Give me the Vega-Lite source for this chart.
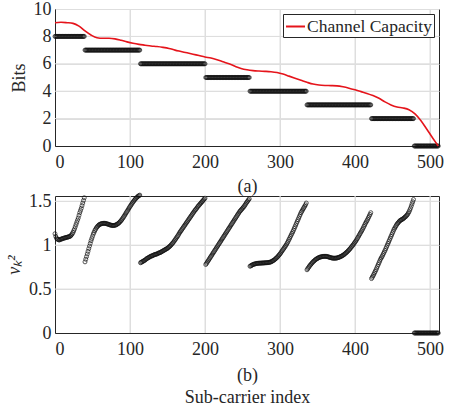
{
  "$schema": "https://vega.github.io/schema/vega-lite/v6.json",
  "background": "white",
  "padding": {"left": 5, "top": -1, "right": 5, "bottom": 0},
  "spacing": -6,
  "config": {
    "font": "Liberation Serif",
    "view": {"stroke": "#262626", "strokeWidth": 1},
    "axis": {
      "labelFont": "Liberation Serif",
      "labelFontSize": 18,
      "labelColor": "#262626",
      "titleFont": "Liberation Serif",
      "titleFontSize": 18,
      "titleFontWeight": "normal",
      "titleColor": "#262626",
      "domainColor": "#262626",
      "grid": true,
      "gridColor": "#dedede",
      "ticks": false,
      "labelOverlap": false
    },
    "axisX": {"labelPadding": 7, "titlePadding": 6},
    "axisY": {"labelPadding": 4, "titlePadding": 5},
    "legend": {
      "labelFont": "Liberation Serif",
      "labelFontSize": 17.5,
      "labelColor": "#262626",
      "strokeColor": "#262626",
      "fillColor": "white",
      "padding": 2,
      "orient": "top-right",
      "offset": 5,
      "symbolType": "stroke",
      "symbolStrokeWidth": 2,
      "symbolSize": 360,
      "labelOffset": 1
    }
  },
  "datasets": {
    "gridX": [{"g":100},{"g":200},{"g":300},{"g":400},{"g":500}],
    "gridBits": [{"g":2},{"g":4},{"g":6},{"g":8}],
    "gridNu": [{"g":0.5},{"g":1},{"g":1.5}],
    "sub": [
      {"k":0,"b":8,"v":1.13},{"k":1,"b":8,"v":1.10},{"k":2,"b":8,"v":1.08},{"k":3,"b":8,"v":1.07},{"k":4,"b":8,"v":1.065},{"k":5,"b":8,"v":1.06},{"k":6,"b":8,"v":1.06},{"k":7,"b":8,"v":1.065},{"k":8,"b":8,"v":1.07},{"k":9,"b":8,"v":1.07},
      {"k":10,"b":8,"v":1.075},{"k":11,"b":8,"v":1.078},{"k":12,"b":8,"v":1.08},{"k":13,"b":8,"v":1.083},{"k":14,"b":8,"v":1.085},{"k":15,"b":8,"v":1.088},{"k":16,"b":8,"v":1.09},{"k":17,"b":8,"v":1.092},{"k":18,"b":8,"v":1.095},{"k":19,"b":8,"v":1.098},
      {"k":20,"b":8,"v":1.10},{"k":21,"b":8,"v":1.108},{"k":22,"b":8,"v":1.118},{"k":23,"b":8,"v":1.13},{"k":24,"b":8,"v":1.145},{"k":25,"b":8,"v":1.165},{"k":26,"b":8,"v":1.185},{"k":27,"b":8,"v":1.21},{"k":28,"b":8,"v":1.235},{"k":29,"b":8,"v":1.26},
      {"k":30,"b":8,"v":1.285},{"k":31,"b":8,"v":1.31},{"k":32,"b":8,"v":1.34},{"k":33,"b":8,"v":1.37},{"k":34,"b":8,"v":1.395},{"k":35,"b":8,"v":1.42},{"k":36,"b":8,"v":1.45},{"k":37,"b":8,"v":1.48},{"k":38,"b":8,"v":1.51},{"k":39,"b":8,"v":1.54},
      {"k":40,"b":7,"v":0.81},{"k":41,"b":7,"v":0.84},{"k":42,"b":7,"v":0.87},{"k":43,"b":7,"v":0.90},{"k":44,"b":7,"v":0.93},{"k":45,"b":7,"v":0.96},{"k":46,"b":7,"v":0.99},{"k":47,"b":7,"v":1.02},{"k":48,"b":7,"v":1.05},{"k":49,"b":7,"v":1.075},
      {"k":50,"b":7,"v":1.10},{"k":51,"b":7,"v":1.125},{"k":52,"b":7,"v":1.145},{"k":53,"b":7,"v":1.165},{"k":54,"b":7,"v":1.18},{"k":55,"b":7,"v":1.195},{"k":56,"b":7,"v":1.207},{"k":57,"b":7,"v":1.217},{"k":58,"b":7,"v":1.226},{"k":59,"b":7,"v":1.233},
      {"k":60,"b":7,"v":1.238},{"k":61,"b":7,"v":1.242},{"k":62,"b":7,"v":1.245},{"k":63,"b":7,"v":1.247},{"k":64,"b":7,"v":1.248},{"k":65,"b":7,"v":1.249},{"k":66,"b":7,"v":1.249},{"k":67,"b":7,"v":1.248},{"k":68,"b":7,"v":1.246},{"k":69,"b":7,"v":1.244},
      {"k":70,"b":7,"v":1.241},{"k":71,"b":7,"v":1.238},{"k":72,"b":7,"v":1.235},{"k":73,"b":7,"v":1.232},{"k":74,"b":7,"v":1.229},{"k":75,"b":7,"v":1.227},{"k":76,"b":7,"v":1.225},{"k":77,"b":7,"v":1.224},{"k":78,"b":7,"v":1.224},{"k":79,"b":7,"v":1.225},
      {"k":80,"b":7,"v":1.227},{"k":81,"b":7,"v":1.23},{"k":82,"b":7,"v":1.234},{"k":83,"b":7,"v":1.239},{"k":84,"b":7,"v":1.245},{"k":85,"b":7,"v":1.252},{"k":86,"b":7,"v":1.26},{"k":87,"b":7,"v":1.269},{"k":88,"b":7,"v":1.279},{"k":89,"b":7,"v":1.29},
      {"k":90,"b":7,"v":1.302},{"k":91,"b":7,"v":1.315},{"k":92,"b":7,"v":1.328},{"k":93,"b":7,"v":1.342},{"k":94,"b":7,"v":1.356},{"k":95,"b":7,"v":1.37},{"k":96,"b":7,"v":1.384},{"k":97,"b":7,"v":1.398},{"k":98,"b":7,"v":1.412},{"k":99,"b":7,"v":1.426},
      {"k":100,"b":7,"v":1.44},{"k":101,"b":7,"v":1.453},{"k":102,"b":7,"v":1.466},{"k":103,"b":7,"v":1.479},{"k":104,"b":7,"v":1.491},{"k":105,"b":7,"v":1.503},{"k":106,"b":7,"v":1.514},{"k":107,"b":7,"v":1.524},{"k":108,"b":7,"v":1.534},{"k":109,"b":7,"v":1.543},
      {"k":110,"b":7,"v":1.551},{"k":111,"b":7,"v":1.558},{"k":112,"b":7,"v":1.564},{"k":113,"b":7,"v":1.57},
      {"k":114,"b":6,"v":0.80},{"k":115,"b":6,"v":0.805},{"k":116,"b":6,"v":0.81},{"k":117,"b":6,"v":0.815},{"k":118,"b":6,"v":0.82},{"k":119,"b":6,"v":0.825},
      {"k":120,"b":6,"v":0.83},{"k":121,"b":6,"v":0.837},{"k":122,"b":6,"v":0.845},{"k":123,"b":6,"v":0.85},{"k":124,"b":6,"v":0.855},{"k":125,"b":6,"v":0.86},{"k":126,"b":6,"v":0.865},{"k":127,"b":6,"v":0.87},{"k":128,"b":6,"v":0.875},{"k":129,"b":6,"v":0.878},
      {"k":130,"b":6,"v":0.88},{"k":131,"b":6,"v":0.885},{"k":132,"b":6,"v":0.89},{"k":133,"b":6,"v":0.893},{"k":134,"b":6,"v":0.895},{"k":135,"b":6,"v":0.898},{"k":136,"b":6,"v":0.90},{"k":137,"b":6,"v":0.905},{"k":138,"b":6,"v":0.91},{"k":139,"b":6,"v":0.913},
      {"k":140,"b":6,"v":0.915},{"k":141,"b":6,"v":0.92},{"k":142,"b":6,"v":0.925},{"k":143,"b":6,"v":0.93},{"k":144,"b":6,"v":0.935},{"k":145,"b":6,"v":0.94},{"k":146,"b":6,"v":0.945},{"k":147,"b":6,"v":0.95},{"k":148,"b":6,"v":0.955},{"k":149,"b":6,"v":0.96},
      {"k":150,"b":6,"v":0.965},{"k":151,"b":6,"v":0.972},{"k":152,"b":6,"v":0.98},{"k":153,"b":6,"v":0.987},{"k":154,"b":6,"v":0.995},{"k":155,"b":6,"v":1.005},{"k":156,"b":6,"v":1.015},{"k":157,"b":6,"v":1.025},{"k":158,"b":6,"v":1.035},{"k":159,"b":6,"v":1.047},
      {"k":160,"b":6,"v":1.06},{"k":161,"b":6,"v":1.072},{"k":162,"b":6,"v":1.085},{"k":163,"b":6,"v":1.097},{"k":164,"b":6,"v":1.11},{"k":165,"b":6,"v":1.125},{"k":166,"b":6,"v":1.14},{"k":167,"b":6,"v":1.152},{"k":168,"b":6,"v":1.165},{"k":169,"b":6,"v":1.177},
      {"k":170,"b":6,"v":1.19},{"k":171,"b":6,"v":1.202},{"k":172,"b":6,"v":1.215},{"k":173,"b":6,"v":1.227},{"k":174,"b":6,"v":1.24},{"k":175,"b":6,"v":1.252},{"k":176,"b":6,"v":1.265},{"k":177,"b":6,"v":1.277},{"k":178,"b":6,"v":1.29},{"k":179,"b":6,"v":1.302},
      {"k":180,"b":6,"v":1.315},{"k":181,"b":6,"v":1.327},{"k":182,"b":6,"v":1.34},{"k":183,"b":6,"v":1.352},{"k":184,"b":6,"v":1.365},{"k":185,"b":6,"v":1.377},{"k":186,"b":6,"v":1.39},{"k":187,"b":6,"v":1.40},{"k":188,"b":6,"v":1.41},{"k":189,"b":6,"v":1.422},
      {"k":190,"b":6,"v":1.435},{"k":191,"b":6,"v":1.445},{"k":192,"b":6,"v":1.455},{"k":193,"b":6,"v":1.465},{"k":194,"b":6,"v":1.475},{"k":195,"b":6,"v":1.485},{"k":196,"b":6,"v":1.495},{"k":197,"b":6,"v":1.505},{"k":198,"b":6,"v":1.515},{"k":199,"b":6,"v":1.525},
      {"k":200,"b":6,"v":1.535},
      {"k":201,"b":5,"v":0.78},{"k":202,"b":5,"v":0.793},{"k":203,"b":5,"v":0.806},{"k":204,"b":5,"v":0.82},{"k":205,"b":5,"v":0.833},{"k":206,"b":5,"v":0.846},{"k":207,"b":5,"v":0.86},{"k":208,"b":5,"v":0.873},{"k":209,"b":5,"v":0.886},
      {"k":210,"b":5,"v":0.90},{"k":211,"b":5,"v":0.913},{"k":212,"b":5,"v":0.926},{"k":213,"b":5,"v":0.94},{"k":214,"b":5,"v":0.953},{"k":215,"b":5,"v":0.966},{"k":216,"b":5,"v":0.98},{"k":217,"b":5,"v":0.993},{"k":218,"b":5,"v":1.006},{"k":219,"b":5,"v":1.02},
      {"k":220,"b":5,"v":1.033},{"k":221,"b":5,"v":1.046},{"k":222,"b":5,"v":1.06},{"k":223,"b":5,"v":1.073},{"k":224,"b":5,"v":1.086},{"k":225,"b":5,"v":1.10},{"k":226,"b":5,"v":1.113},{"k":227,"b":5,"v":1.126},{"k":228,"b":5,"v":1.14},{"k":229,"b":5,"v":1.153},
      {"k":230,"b":5,"v":1.166},{"k":231,"b":5,"v":1.18},{"k":232,"b":5,"v":1.193},{"k":233,"b":5,"v":1.206},{"k":234,"b":5,"v":1.22},{"k":235,"b":5,"v":1.233},{"k":236,"b":5,"v":1.246},{"k":237,"b":5,"v":1.26},{"k":238,"b":5,"v":1.273},{"k":239,"b":5,"v":1.286},
      {"k":240,"b":5,"v":1.30},{"k":241,"b":5,"v":1.313},{"k":242,"b":5,"v":1.326},{"k":243,"b":5,"v":1.34},{"k":244,"b":5,"v":1.353},{"k":245,"b":5,"v":1.366},{"k":246,"b":5,"v":1.38},{"k":247,"b":5,"v":1.39},{"k":248,"b":5,"v":1.40},{"k":249,"b":5,"v":1.41},
      {"k":250,"b":5,"v":1.42},{"k":251,"b":5,"v":1.43},{"k":252,"b":5,"v":1.44},{"k":253,"b":5,"v":1.453},{"k":254,"b":5,"v":1.466},{"k":255,"b":5,"v":1.48},{"k":256,"b":5,"v":1.492},{"k":257,"b":5,"v":1.504},{"k":258,"b":5,"v":1.516},{"k":259,"b":5,"v":1.528},
      {"k":260,"b":4,"v":0.76},{"k":261,"b":4,"v":0.765},{"k":262,"b":4,"v":0.77},{"k":263,"b":4,"v":0.775},{"k":264,"b":4,"v":0.78},{"k":265,"b":4,"v":0.783},{"k":266,"b":4,"v":0.785},{"k":267,"b":4,"v":0.788},{"k":268,"b":4,"v":0.79},{"k":269,"b":4,"v":0.792},
      {"k":270,"b":4,"v":0.793},{"k":271,"b":4,"v":0.794},{"k":272,"b":4,"v":0.795},{"k":273,"b":4,"v":0.795},{"k":274,"b":4,"v":0.796},{"k":275,"b":4,"v":0.796},{"k":276,"b":4,"v":0.797},{"k":277,"b":4,"v":0.797},{"k":278,"b":4,"v":0.798},{"k":279,"b":4,"v":0.798},
      {"k":280,"b":4,"v":0.799},{"k":281,"b":4,"v":0.80},{"k":282,"b":4,"v":0.80},{"k":283,"b":4,"v":0.801},{"k":284,"b":4,"v":0.802},{"k":285,"b":4,"v":0.803},{"k":286,"b":4,"v":0.805},{"k":287,"b":4,"v":0.807},{"k":288,"b":4,"v":0.81},{"k":289,"b":4,"v":0.815},
      {"k":290,"b":4,"v":0.82},{"k":291,"b":4,"v":0.825},{"k":292,"b":4,"v":0.83},{"k":293,"b":4,"v":0.837},{"k":294,"b":4,"v":0.845},{"k":295,"b":4,"v":0.852},{"k":296,"b":4,"v":0.86},{"k":297,"b":4,"v":0.87},{"k":298,"b":4,"v":0.88},{"k":299,"b":4,"v":0.89},
      {"k":300,"b":4,"v":0.90},{"k":301,"b":4,"v":0.912},{"k":302,"b":4,"v":0.925},{"k":303,"b":4,"v":0.937},{"k":304,"b":4,"v":0.95},{"k":305,"b":4,"v":0.962},{"k":306,"b":4,"v":0.975},{"k":307,"b":4,"v":0.987},{"k":308,"b":4,"v":1.00},{"k":309,"b":4,"v":1.015},
      {"k":310,"b":4,"v":1.03},{"k":311,"b":4,"v":1.047},{"k":312,"b":4,"v":1.065},{"k":313,"b":4,"v":1.082},{"k":314,"b":4,"v":1.10},{"k":315,"b":4,"v":1.117},{"k":316,"b":4,"v":1.135},{"k":317,"b":4,"v":1.152},{"k":318,"b":4,"v":1.17},{"k":319,"b":4,"v":1.19},
      {"k":320,"b":4,"v":1.21},{"k":321,"b":4,"v":1.23},{"k":322,"b":4,"v":1.25},{"k":323,"b":4,"v":1.27},{"k":324,"b":4,"v":1.29},{"k":325,"b":4,"v":1.31},{"k":326,"b":4,"v":1.33},{"k":327,"b":4,"v":1.35},{"k":328,"b":4,"v":1.37},{"k":329,"b":4,"v":1.385},
      {"k":330,"b":4,"v":1.40},{"k":331,"b":4,"v":1.415},{"k":332,"b":4,"v":1.43},{"k":333,"b":4,"v":1.445},{"k":334,"b":4,"v":1.46},{"k":335,"b":4,"v":1.48},
      {"k":336,"b":3,"v":0.72},{"k":337,"b":3,"v":0.733},{"k":338,"b":3,"v":0.745},{"k":339,"b":3,"v":0.758},
      {"k":340,"b":3,"v":0.77},{"k":341,"b":3,"v":0.78},{"k":342,"b":3,"v":0.79},{"k":343,"b":3,"v":0.80},{"k":344,"b":3,"v":0.81},{"k":345,"b":3,"v":0.818},{"k":346,"b":3,"v":0.825},{"k":347,"b":3,"v":0.833},{"k":348,"b":3,"v":0.84},{"k":349,"b":3,"v":0.845},
      {"k":350,"b":3,"v":0.85},{"k":351,"b":3,"v":0.855},{"k":352,"b":3,"v":0.86},{"k":353,"b":3,"v":0.863},{"k":354,"b":3,"v":0.865},{"k":355,"b":3,"v":0.868},{"k":356,"b":3,"v":0.87},{"k":357,"b":3,"v":0.871},{"k":358,"b":3,"v":0.872},{"k":359,"b":3,"v":0.873},
      {"k":360,"b":3,"v":0.873},{"k":361,"b":3,"v":0.873},{"k":362,"b":3,"v":0.872},{"k":363,"b":3,"v":0.87},{"k":364,"b":3,"v":0.868},{"k":365,"b":3,"v":0.865},{"k":366,"b":3,"v":0.862},{"k":367,"b":3,"v":0.86},{"k":368,"b":3,"v":0.857},{"k":369,"b":3,"v":0.855},
      {"k":370,"b":3,"v":0.853},{"k":371,"b":3,"v":0.852},{"k":372,"b":3,"v":0.852},{"k":373,"b":3,"v":0.852},{"k":374,"b":3,"v":0.852},{"k":375,"b":3,"v":0.853},{"k":376,"b":3,"v":0.855},{"k":377,"b":3,"v":0.857},{"k":378,"b":3,"v":0.86},{"k":379,"b":3,"v":0.863},
      {"k":380,"b":3,"v":0.867},{"k":381,"b":3,"v":0.871},{"k":382,"b":3,"v":0.875},{"k":383,"b":3,"v":0.88},{"k":384,"b":3,"v":0.885},{"k":385,"b":3,"v":0.891},{"k":386,"b":3,"v":0.898},{"k":387,"b":3,"v":0.905},{"k":388,"b":3,"v":0.912},{"k":389,"b":3,"v":0.92},
      {"k":390,"b":3,"v":0.928},{"k":391,"b":3,"v":0.937},{"k":392,"b":3,"v":0.946},{"k":393,"b":3,"v":0.956},{"k":394,"b":3,"v":0.966},{"k":395,"b":3,"v":0.977},{"k":396,"b":3,"v":0.988},{"k":397,"b":3,"v":0.999},{"k":398,"b":3,"v":1.01},{"k":399,"b":3,"v":1.022},
      {"k":400,"b":3,"v":1.035},{"k":401,"b":3,"v":1.047},{"k":402,"b":3,"v":1.06},{"k":403,"b":3,"v":1.075},{"k":404,"b":3,"v":1.09},{"k":405,"b":3,"v":1.105},{"k":406,"b":3,"v":1.12},{"k":407,"b":3,"v":1.135},{"k":408,"b":3,"v":1.15},{"k":409,"b":3,"v":1.165},
      {"k":410,"b":3,"v":1.18},{"k":411,"b":3,"v":1.197},{"k":412,"b":3,"v":1.215},{"k":413,"b":3,"v":1.232},{"k":414,"b":3,"v":1.25},{"k":415,"b":3,"v":1.265},{"k":416,"b":3,"v":1.28},{"k":417,"b":3,"v":1.297},{"k":418,"b":3,"v":1.315},{"k":419,"b":3,"v":1.332},
      {"k":420,"b":3,"v":1.35},{"k":421,"b":3,"v":1.37},
      {"k":422,"b":2,"v":0.62},{"k":423,"b":2,"v":0.635},{"k":424,"b":2,"v":0.65},{"k":425,"b":2,"v":0.667},{"k":426,"b":2,"v":0.685},{"k":427,"b":2,"v":0.702},{"k":428,"b":2,"v":0.72},{"k":429,"b":2,"v":0.74},
      {"k":430,"b":2,"v":0.76},{"k":431,"b":2,"v":0.78},{"k":432,"b":2,"v":0.80},{"k":433,"b":2,"v":0.82},{"k":434,"b":2,"v":0.84},{"k":435,"b":2,"v":0.855},{"k":436,"b":2,"v":0.87},{"k":437,"b":2,"v":0.887},{"k":438,"b":2,"v":0.905},{"k":439,"b":2,"v":0.922},
      {"k":440,"b":2,"v":0.94},{"k":441,"b":2,"v":0.96},{"k":442,"b":2,"v":0.98},{"k":443,"b":2,"v":1.00},{"k":444,"b":2,"v":1.02},{"k":445,"b":2,"v":1.04},{"k":446,"b":2,"v":1.06},{"k":447,"b":2,"v":1.08},{"k":448,"b":2,"v":1.10},{"k":449,"b":2,"v":1.12},
      {"k":450,"b":2,"v":1.14},{"k":451,"b":2,"v":1.16},{"k":452,"b":2,"v":1.18},{"k":453,"b":2,"v":1.195},{"k":454,"b":2,"v":1.21},{"k":455,"b":2,"v":1.225},{"k":456,"b":2,"v":1.24},{"k":457,"b":2,"v":1.25},{"k":458,"b":2,"v":1.26},{"k":459,"b":2,"v":1.27},
      {"k":460,"b":2,"v":1.28},{"k":461,"b":2,"v":1.285},{"k":462,"b":2,"v":1.29},{"k":463,"b":2,"v":1.295},{"k":464,"b":2,"v":1.30},{"k":465,"b":2,"v":1.307},{"k":466,"b":2,"v":1.315},{"k":467,"b":2,"v":1.322},{"k":468,"b":2,"v":1.33},{"k":469,"b":2,"v":1.34},
      {"k":470,"b":2,"v":1.35},{"k":471,"b":2,"v":1.365},{"k":472,"b":2,"v":1.38},{"k":473,"b":2,"v":1.40},{"k":474,"b":2,"v":1.42},{"k":475,"b":2,"v":1.445},{"k":476,"b":2,"v":1.47},{"k":477,"b":2,"v":1.495},{"k":478,"b":2,"v":1.52},
      {"k":479,"b":0,"v":0},{"k":480,"b":0,"v":0},{"k":481,"b":0,"v":0},{"k":482,"b":0,"v":0},{"k":483,"b":0,"v":0},{"k":484,"b":0,"v":0},{"k":485,"b":0,"v":0},{"k":486,"b":0,"v":0},{"k":487,"b":0,"v":0},{"k":488,"b":0,"v":0},{"k":489,"b":0,"v":0},
      {"k":490,"b":0,"v":0},{"k":491,"b":0,"v":0},{"k":492,"b":0,"v":0},{"k":493,"b":0,"v":0},{"k":494,"b":0,"v":0},{"k":495,"b":0,"v":0},{"k":496,"b":0,"v":0},{"k":497,"b":0,"v":0},{"k":498,"b":0,"v":0},{"k":499,"b":0,"v":0},
      {"k":500,"b":0,"v":0},{"k":501,"b":0,"v":0},{"k":502,"b":0,"v":0},{"k":503,"b":0,"v":0},{"k":504,"b":0,"v":0},{"k":505,"b":0,"v":0},{"k":506,"b":0,"v":0},{"k":507,"b":0,"v":0},{"k":508,"b":0,"v":0},{"k":509,"b":0,"v":0},
      {"k":510,"b":0,"v":0},{"k":511,"b":0,"v":0}
    ],
    "cap": [
      {"k":0,"c":9.0},{"k":8,"c":9.03},{"k":16,"c":9.0},{"k":24,"c":8.95},{"k":32,"c":8.75},{"k":40,"c":8.4},{"k":48,"c":8.1},{"k":56,"c":7.9},
      {"k":64,"c":7.86},{"k":72,"c":7.86},{"k":80,"c":7.82},{"k":88,"c":7.72},{"k":96,"c":7.6},{"k":104,"c":7.5},{"k":112,"c":7.42},{"k":120,"c":7.36},
      {"k":128,"c":7.3},{"k":136,"c":7.26},{"k":144,"c":7.2},{"k":152,"c":7.12},{"k":160,"c":7.0},{"k":168,"c":6.9},{"k":176,"c":6.8},{"k":184,"c":6.7},
      {"k":192,"c":6.6},{"k":200,"c":6.5},{"k":208,"c":6.42},{"k":216,"c":6.3},{"k":224,"c":6.15},{"k":232,"c":6.0},{"k":240,"c":5.82},{"k":248,"c":5.66},
      {"k":256,"c":5.56},{"k":264,"c":5.5},{"k":272,"c":5.47},{"k":280,"c":5.45},{"k":288,"c":5.42},{"k":296,"c":5.36},{"k":304,"c":5.25},{"k":312,"c":5.1},
      {"k":320,"c":4.95},{"k":328,"c":4.8},{"k":336,"c":4.65},{"k":344,"c":4.52},{"k":352,"c":4.45},{"k":360,"c":4.42},{"k":368,"c":4.41},{"k":376,"c":4.39},
      {"k":384,"c":4.32},{"k":392,"c":4.22},{"k":400,"c":4.1},{"k":408,"c":3.97},{"k":416,"c":3.84},{"k":424,"c":3.68},{"k":432,"c":3.48},{"k":440,"c":3.22},
      {"k":448,"c":3.0},{"k":456,"c":2.85},{"k":464,"c":2.78},{"k":472,"c":2.65},{"k":480,"c":2.35},{"k":488,"c":1.85},{"k":496,"c":1.2},{"k":504,"c":0.55},{"k":511,"c":0.0}
    ]
  },
  "vconcat": [
    {
      "width": 384,
      "height": 137,
      "layer": [
        {
          "data": {"name": "gridX"},
          "mark": {"type": "rule", "color": "#dedede", "strokeWidth": 1},
          "encoding": {"x": {"field": "g", "type": "quantitative",
                             "axis": {"tickCount": 6, "title": "(a)", "labelOverlap": false}}}
        },
        {
          "data": {"name": "gridBits"},
          "mark": {"type": "rule", "color": "#dedede", "strokeWidth": 1},
          "encoding": {"y": {"field": "g", "type": "quantitative",
                             "axis": {"tickCount": 5, "title": "Bits", "labelOverlap": false}}}
        },
        {
          "data": {"name": "sub"},
          "mark": {"type": "point", "shape": "circle", "filled": false, "stroke": "#111111", "strokeWidth": 1, "size": 16, "clip": false},
          "encoding": {
            "x": {"field": "k", "type": "quantitative", "scale": {"domain": [0, 512], "nice": false},
                  "axis": {"tickCount": 6, "title": "(a)", "labelOverlap": false}},
            "y": {"field": "b", "type": "quantitative", "scale": {"domain": [0, 10], "nice": false},
                  "axis": {"tickCount": 5, "title": "Bits", "labelOverlap": false}}
          }
        },
        {
          "data": {"name": "cap"},
          "mark": {"type": "line", "strokeWidth": 1.6, "interpolate": "monotone"},
          "encoding": {
            "x": {"field": "k", "type": "quantitative",
                  "axis": {"tickCount": 6, "title": "(a)", "labelOverlap": false}},
            "y": {"field": "c", "type": "quantitative",
                  "axis": {"tickCount": 5, "title": "Bits", "labelOverlap": false}},
            "color": {"datum": "Channel Capacity", "type": "nominal",
                      "scale": {"range": ["#e5141b"]},
                      "legend": {"title": null}}
          }
        }
      ]
    },
    {
      "width": 384,
      "height": 137,
      "layer": [
        {
          "data": {"name": "gridX"},
          "mark": {"type": "rule", "color": "#dedede", "strokeWidth": 1},
          "encoding": {"x": {"field": "g", "type": "quantitative",
                             "axis": {"tickCount": 6, "title": ["(b)", "Sub-carrier index"], "titleLineHeight": 22, "titlePadding": 8, "labelOverlap": false}}}
        },
        {
          "data": {"name": "gridNu"},
          "mark": {"type": "rule", "color": "#dedede", "strokeWidth": 1},
          "encoding": {"y": {"field": "g", "type": "quantitative",
                             "axis": {"tickCount": 4, "labelExpr": "datum.value + ''", "title": "νₖ²", "titleFontStyle": "italic", "labelOverlap": false}}}
        },
        {
          "data": {"name": "sub"},
          "mark": {"type": "point", "shape": "circle", "filled": false, "stroke": "#111111", "strokeWidth": 1, "size": 16, "clip": false},
          "encoding": {
            "x": {"field": "k", "type": "quantitative", "scale": {"domain": [0, 512], "nice": false},
                  "axis": {"tickCount": 6, "title": ["(b)", "Sub-carrier index"], "titleLineHeight": 22, "titlePadding": 8, "labelOverlap": false}},
            "y": {"field": "v", "type": "quantitative", "scale": {"domain": [0, 1.56], "nice": false},
                  "axis": {"tickCount": 4, "labelExpr": "datum.value + ''", "title": "νₖ²", "titleFontStyle": "italic", "labelOverlap": false}}
          }
        }
      ]
    }
  ]
}
